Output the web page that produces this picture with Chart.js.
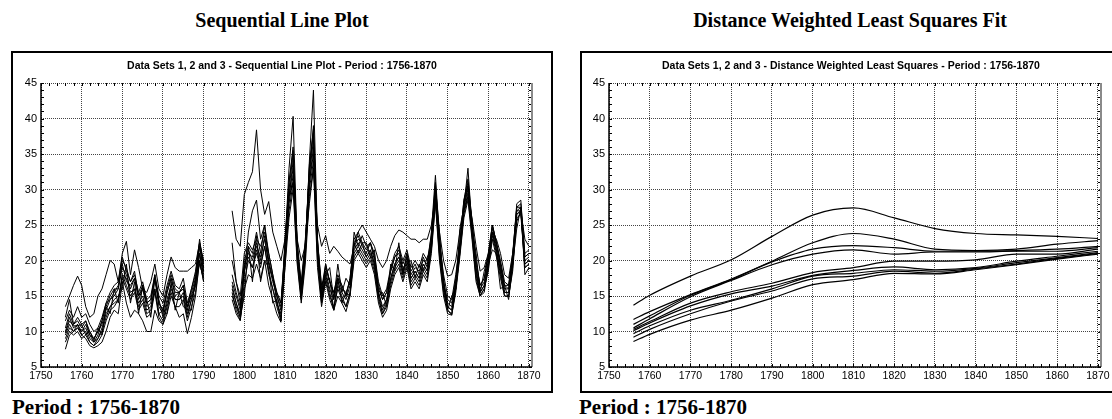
<!DOCTYPE html>
<html>
<head>
<meta charset="utf-8">
<script src="https://cdn.jsdelivr.net/npm/chart.js@4.4.1/dist/chart.umd.min.js"></script>
<style>
html, body { margin: 0; padding: 0; background: #fff; }
body { position: relative; width: 1112px; height: 419px; overflow: hidden; }
.head { position: absolute; top: 9px; line-height: 24px; text-align: center;
        font: bold 20px "Liberation Serif", "Times New Roman", serif; color: #000; }
.box { position: absolute; top: 51px; width: 538px; height: 338px; border: 2px solid #000; }
.box canvas { position: absolute; left: 0; top: 0; }
.sub { position: absolute; top: 6px; left: 0; width: 100%; line-height: 12px; text-align: center;
       font: bold 10.5px "Liberation Sans", Arial, sans-serif; color: #000; }
.foot { position: absolute; top: 395px; line-height: 24px;
        font: bold 21px "Liberation Serif", "Times New Roman", serif; color: #000; }
</style>
</head>
<body>

<div class="head" style="left:11px; width:542px;">Sequential Line Plot</div>
<div class="head" style="left:580px; width:540px;">Distance Weighted Least Squares Fit</div>

<div class="box" style="left:11px;">
    <canvas id="seqChart" width="538" height="338"></canvas>
    <div class="sub">Data Sets 1, 2 and 3 - Sequential Line Plot - Period : 1756-1870</div>
</div>
<div class="box" style="left:580px;">
    <canvas id="fitChart" width="538" height="338"></canvas>
    <div class="sub">Data Sets 1, 2 and 3 - Distance Weighted Least Squares - Period : 1756-1870</div>
</div>

<div class="foot" style="left:12px;">Period : 1756-1870</div>
<div class="foot" style="left:579px;">Period : 1756-1870</div>

<script>
const N = null;

// years 1756..1870, no observations 1791-1796
const YEARS = [];
for (let y = 1756; y <= 1870; y++) YEARS.push(y);

const X_TICKS = [1750, 1760, 1770, 1780, 1790, 1800, 1810, 1820, 1830, 1840, 1850, 1860, 1870];
const Y_TICKS = [5, 10, 15, 20, 25, 30, 35, 40, 45];

// sequential series, one value per year (rows: 1756-59, 1760s, 1770s, ... 1860s, 1870)
const s1 = [
    13.5, 15, 16.5, 17.8,
    16.5, 13.5, 12, 12.5, 15, 16, 18, 20, 19.5, 17,
    21, 22.7, 18, 21.5, 19, 16, 15.5, 17, 19.5, 16,
    15, 18, 20.5, 19, 18.5, 18.5, 18.5, 19, 19.5, 22.5,
    20, N, N, N, N, N, N, 27, 23, 22,
    29.3, 31, 32.5, 38.4, 30, 26.5, 28.3, 24, 22, 20,
    23, 29, 31, 23, 20, 22, 28, 33, 25, 22,
    23.5, 21, 22, 21.3, 20.5, 20, 19.5, 22, 24, 25,
    24, 23, 22, 20, 19, 20, 22, 23.5, 24.3, 24,
    23.5, 23, 23, 22.5, 23, 23, 25, 29, 24, 20,
    17.8, 18, 20, 24, 27, 29, 26, 22, 18.5, 19,
    21, 24, 23, 21, 18, 17.5, 21, 25.5, 27, 23,
    22
];
const s2 = [
    10.5, 12.5, 11, 12,
    11, 11.5, 10, 9, 10, 11.5, 13.5, 15, 16, 16,
    20, 19, 17, 18.5, 15, 16.5, 14, 14.5, 18, 14,
    13, 16, 18, 16, 15.5, 16.5, 13.5, 16, 18, 23,
    19, N, N, N, N, N, N, 16, 14, 12.5,
    20, 22, 21, 24, 21, 25, 20, 17.5, 15, 13,
    22, 33, 40.3, 22, 15, 21, 34, 44, 23, 15,
    19.5, 17, 15.5, 18, 16.5, 15, 17.5, 23, 24, 22.5,
    21.5, 22.5, 20, 16, 14.5, 15.5, 18.5, 20.5, 21.5, 19.5,
    21, 18.5, 19.5, 18, 20.5, 19, 24, 32, 23, 17.5,
    13, 15, 16, 24.5, 27.5, 33, 24.5, 21, 15.5, 18.5,
    20.5, 25, 22.5, 19, 16.5, 16, 20.5, 28, 28.5, 20.5,
    21
];
const s3 = [
    9.5, 11, 10, 10.5,
    10, 10.5, 9, 8.5, 9, 10.5, 12.5, 13.5, 14.5, 15,
    16, 19.5, 14, 17, 12.5, 16.5, 14.5, 12, 17.5, 14.5,
    12, 14.5, 16.5, 14.5, 14.5, 15.5, 12.5, 14.5, 16.5, 21,
    18, N, N, N, N, N, N, 22.5, 17, 14,
    18, 24, 27, 28.5, 23, 25, 21, 18, 14, 12,
    23, 31, 36, 21, 15.5, 22, 33, 38, 21, 14.5,
    18.5, 16, 14.5, 17, 15.5, 14.5, 16.5, 21.5, 22.5, 21.5,
    20.5, 21.5, 19.5, 15.5, 13.5, 14.5, 17.5, 19.5, 20.5, 18.5,
    20.5, 17.5, 18.5, 17.5, 19.5, 18.5, 22.5, 30, 21.5, 16.5,
    13.5, 13, 16.5, 21.5, 27.5, 30.5, 24.5, 18.5, 15.5, 16.5,
    19.5, 24, 21.5, 18.5, 15.5, 15.5, 19.5, 27, 27.5, 19.5,
    20
];
const s4 = [
    11.5, 13, 12, 13.5,
    12, 12.5, 11, 10, 10.5, 12, 14, 15.5, 16.5, 17,
    20.5, 18.5, 17, 18, 15.5, 17, 14.5, 15, 18, 15,
    14, 16.5, 18.5, 16.5, 16, 17.5, 14, 16, 18.5, 22.5,
    19.5, N, N, N, N, N, N, 20, 17, 15,
    21, 22.5, 21.5, 23, 22, 24, 21, 18, 15.5, 14,
    21, 29, 34, 21.5, 17, 23, 31, 36, 22.5, 16.5,
    18, 19, 14.5, 19.5, 15.5, 17.5, 16.5, 24, 22, 23.5,
    22, 22.5, 21, 17, 15, 16, 19, 21, 22, 20,
    21.5, 19, 20, 19, 21, 20, 23.5, 31, 22.5, 18,
    15, 14.5, 18, 22.5, 28.5, 31.5, 25.5, 20, 16.5, 17.5,
    21, 25, 22.5, 20, 17, 16.5, 21, 27.5, 28, 21,
    21.5
];
const s5 = [
    9.8, 11.5, 10.8, 10.8,
    11, 9.5, 10, 8.7, 10.5, 9.5, 13.5, 12.5, 16, 14,
    18, 17.5, 15.5, 16, 14, 15, 13, 13.5, 16, 12.5,
    11.5, 14, 16, 14.5, 14.5, 15, 12, 14.5, 16.5, 21,
    17.5, N, N, N, N, N, N, 15.5, 13, 11.6,
    17, 20, 19, 21, 19, 22, 18, 16, 13.5, 11.5,
    21, 28, 32, 21, 14.7, 21, 31, 35, 21, 14.2,
    18, 15.5, 13, 16.5, 15, 13.5, 15.5, 21, 22, 21,
    20, 21, 19, 15, 12.5, 14, 17, 19, 20, 18,
    20, 17, 18, 17, 19, 18, 22, 29, 21, 16,
    13, 12.3, 16, 21, 27, 29.5, 24, 18, 15.1, 16,
    19, 23.5, 21, 18, 15, 14.9, 19, 26.5, 27, 19,
    19.5
];
const s6 = [
    12, 14.5, 11, 11.5,
    10.5, 11.5, 9.5, 8.5, 9.5, 11.5, 14, 14.5, 15.5, 16.5,
    19.5, 17, 16.5, 17.5, 14.5, 16, 13.5, 14, 17.5, 13.5,
    12.5, 15.5, 17.5, 15, 15.5, 16.5, 13, 15.5, 17.5, 22,
    18.5, N, N, N, N, N, N, 18, 15.5, 13.5,
    19.5, 21, 20.5, 22.5, 20, 23.5, 19.5, 17, 15, 13.5,
    20, 30, 35, 22, 16, 22.5, 32, 39, 22, 15.5,
    19, 17, 15, 17.5, 16, 15.5, 17, 22, 23, 22.5,
    22.5, 20.5, 21.5, 15, 15.5, 13.5, 19.5, 18.5, 22.5, 18,
    21, 18, 19, 18.5, 20, 19.5, 23, 30.5, 22, 17,
    14, 13.5, 17, 22, 28, 31, 25, 19, 16, 17,
    20, 24.5, 22, 19.5, 16, 16, 20, 27, 27, 20,
    20.5
];
const s7 = [
    9, 10.5, 10, 11,
    9.5, 10, 8.5, 8, 9, 10, 12, 13.5, 14, 14.5,
    18, 16.5, 15, 16, 13.5, 14.5, 12.5, 13, 16, 12.5,
    13, 12.5, 17, 13, 15.5, 13.5, 13, 13, 17.5, 19.5,
    17.5, N, N, N, N, N, N, 15, 13.5, 12,
    18.5, 20.5, 19, 21.5, 19.5, 22, 18.5, 16, 14, 12.5,
    19, 29, 33, 21, 15, 21.5, 32, 37, 21, 15,
    17, 17.5, 13, 17.5, 14, 15.5, 15, 22.5, 21, 22.5,
    20.5, 21.5, 19.5, 15.5, 13, 14.5, 17.5, 19.5, 20.5, 18.5,
    20.5, 17.5, 18.5, 17.5, 19.5, 18.5, 22.5, 29.5, 21.5, 16.5,
    13.5, 13, 16.5, 21.5, 27.5, 30, 24.5, 18.5, 15.5, 16.5,
    19.5, 24, 21.5, 18.5, 15.5, 15.5, 19.5, 26.5, 27, 19.5,
    20
];
const s8 = [
    10, 12, 10.5, 11,
    10, 11, 9.5, 9, 10, 11, 13, 14.5, 15, 16,
    19, 18, 16, 17.5, 15, 16, 14, 14.5, 17.5, 14,
    13, 15.5, 17.5, 15.5, 15.5, 16, 13.5, 15, 17, 22,
    18.5, N, N, N, N, N, N, 17, 15, 13,
    19, 21.5, 20, 22, 20.5, 23, 19.5, 17.5, 15.5, 14,
    22, 31, 35.5, 23, 16.5, 22, 33.5, 38.5, 23, 16,
    19.5, 17, 15.5, 17.5, 16.5, 15, 17.5, 22.5, 23.5, 22,
    21, 22.5, 20.5, 16.5, 14.5, 15.5, 18.5, 20.5, 21, 19,
    19.5, 20, 17.5, 19.5, 18.5, 20.5, 21.5, 30.5, 24, 16.5,
    14.5, 14, 17.5, 22.5, 28.5, 30.5, 25.5, 19.5, 16.5, 17.5,
    20.5, 25, 22.5, 19.5, 16.5, 16.5, 20.5, 27.5, 27.5, 20.5,
    21
];
const s9 = [
    8.5, 10, 9.5, 10,
    9, 9.5, 8.5, 8, 8.5, 9.5, 11.5, 13, 13.5, 14.5,
    17.5, 16, 14.5, 15.5, 13, 14, 12, 12.5, 15.5, 12,
    11, 13.5, 15.5, 13.5, 13.5, 14.5, 11.5, 13.5, 15.5, 20,
    17, N, N, N, N, N, N, 16.5, 14, 12,
    15, 22, 17, 23.5, 17, 20, 19, 14, 14.5, 11.5,
    20, 27, 31, 20, 14.5, 20.5, 30, 34, 20, 14,
    17.5, 15, 13.5, 16, 14.5, 13.5, 15.5, 20.5, 21.5, 20.5,
    19.5, 20.5, 18.5, 14.5, 12.5, 13.5, 16.5, 18.5, 19.5, 17.5,
    19.5, 16.5, 17.5, 16.5, 18.5, 17.5, 21.5, 28.5, 20.5, 15.5,
    13, 12.5, 16, 21, 26.5, 29, 23.5, 17.5, 15, 16,
    18.5, 23, 20.5, 17.5, 15, 15, 18.5, 26, 26.5, 19,
    19.5
];
const s10 = [
    7.5, 9.5, 10, 10.5,
    9.5, 9, 8, 7.7, 8, 8.5, 10, 12, 13, 12.5,
    17, 14, 12, 13, 12.5, 11.5, 10, 10, 13, 11.5,
    11, 12.5, 15, 13.5, 12, 12.5, 9.7, 12, 15, 20,
    17, N, N, N, N, N, N, 14.5, 12.5, 11.5,
    16, 18, 17.5, 19.5, 17.5, 20, 16.5, 14.5, 12.5, 11.3,
    19, 26, 30, 19.5, 14, 19.5, 29, 33, 19, 13.5,
    17, 14.5, 13, 15, 14, 12.8, 15, 20, 21, 20,
    19, 20, 18, 14, 12, 13, 16, 18, 19, 17,
    19, 16, 17, 16, 18, 17, 21, 28, 20, 15,
    12.5, 12.3, 15.5, 20.5, 26, 28.5, 23, 17, 15, 15.5,
    19.5, 21.5, 21, 16, 16.5, 14.5, 19.5, 24.5, 27.5, 18,
    19
];
const SEQ_SERIES = [s1, s2, s3, s4, s5, s6, s7, s8, s9, s10];

// distance weighted least squares curves, read at these years
const FIT_YEARS = [1756, 1760, 1770, 1780, 1790, 1800, 1810, 1820, 1830, 1840, 1850, 1860, 1870];
const f1 = [13.7, 15.1, 17.8, 20.1, 23.4, 26.4, 27.4, 26.0, 24.5, 23.8, 23.6, 23.4, 23.1];
const f2 = [11.7, 12.8, 15.2, 17.4, 19.9, 22.5, 23.8, 23.0, 21.6, 21.4, 21.6, 22.3, 22.8];
const f3 = [11.0, 12.2, 15.1, 17.3, 19.8, 21.6, 22.1, 21.8, 21.3, 21.3, 21.4, 21.6, 22.0];
const f4 = [10.5, 11.8, 14.9, 17.2, 19.4, 20.9, 21.5, 20.9, 21.2, 21.2, 21.3, 21.3, 21.8];
const f5 = [10.3, 11.4, 14.0, 15.6, 16.8, 18.3, 19.0, 19.9, 19.9, 20.1, 20.9, 20.9, 21.6];
const f6 = [10.1, 11.2, 13.6, 15.3, 16.4, 17.9, 18.6, 19.1, 18.7, 19.0, 19.9, 20.6, 21.3];
const f7 = [9.7, 10.8, 13.0, 14.4, 16.0, 17.8, 18.2, 18.7, 18.5, 18.9, 19.7, 20.4, 21.1];
const f8 = [9.2, 10.3, 12.5, 14.3, 15.7, 17.4, 17.8, 18.5, 18.2, 18.8, 19.5, 20.3, 21.0];
const f9 = [8.6, 9.6, 11.6, 13.0, 14.7, 16.6, 17.3, 18.2, 18.1, 18.7, 19.4, 20.2, 20.9];
const FIT_SERIES = [f1, f2, f3, f4, f5, f6, f7, f8, f9];

const X_MIN = 1750, X_MAX = 1870.75;
const Y_MIN = 5, Y_MAX = 45;

// plot frame: black left/bottom axis, grey right edge, small inward ticks
const framePlugin = {
    id: 'frame',
    afterDraw(chart) {
        const ctx = chart.ctx;
        const a = chart.chartArea;
        const x = chart.scales.x, y = chart.scales.y;
        ctx.save();
        ctx.strokeStyle = '#000';
        ctx.lineWidth = 1;
        ctx.beginPath();
        for (let v = X_MIN; v <= 1870; v += 2) {
            const px = Math.round(x.getPixelForValue(v)) + 0.5;
            ctx.moveTo(px, a.bottom); ctx.lineTo(px, a.bottom - 3);
            ctx.moveTo(px, a.top); ctx.lineTo(px, a.top + 3);
        }
        for (let v = Y_MIN; v <= Y_MAX; v += 1) {
            const py = Math.round(y.getPixelForValue(v)) + 0.5;
            ctx.moveTo(a.left, py); ctx.lineTo(a.left + 3, py);
            ctx.moveTo(a.right, py); ctx.lineTo(a.right - 3, py);
        }
        ctx.stroke();
        ctx.strokeStyle = '#8a8a8a';
        ctx.lineWidth = 2;
        ctx.beginPath();
        ctx.moveTo(a.right, a.top); ctx.lineTo(a.right, a.bottom);
        ctx.stroke();
        ctx.strokeStyle = '#000';
        ctx.lineWidth = 1.5;
        ctx.beginPath();
        ctx.moveTo(a.left, a.top); ctx.lineTo(a.left, a.bottom); ctx.lineTo(a.right, a.bottom);
        ctx.stroke();
        ctx.restore();
    }
};

function scaleOptions(yWidth) {
    const tickFont = { family: "'Liberation Sans', Arial, sans-serif", size: 10.5 };
    return {
        x: {
            type: 'linear',
            min: X_MIN,
            max: X_MAX,
            afterBuildTicks: s => { s.ticks = X_TICKS.map(v => ({ value: v })); },
            afterFit: s => { s.height = 24; },
            ticks: { color: '#000', font: tickFont, padding: 3, autoSkip: false, maxRotation: 0,
                     callback: v => String(v) },
            grid: { color: '#444', lineWidth: 1, drawTicks: false },
            border: { display: false, dash: [1, 1] }
        },
        y: {
            min: Y_MIN,
            max: Y_MAX,
            afterBuildTicks: s => { s.ticks = Y_TICKS.map(v => ({ value: v })); },
            afterFit: s => { s.width = yWidth; },
            ticks: { color: '#000', font: { family: "'Liberation Sans', Arial, sans-serif", size: 11 },
                     padding: 4 },
            grid: { color: '#444', lineWidth: 1, drawTicks: false },
            border: { display: false, dash: [1, 1] }
        }
    };
}

function baseOptions(yWidth, rightPad) {
    return {
        responsive: false,
        animation: false,
        events: [],
        layout: { padding: { top: 30, right: rightPad, bottom: 0, left: 0 } },
        plugins: { legend: { display: false }, title: { display: false }, tooltip: { enabled: false } },
        scales: scaleOptions(yWidth)
    };
}

new Chart(document.getElementById('seqChart'), {
    type: 'line',
    data: {
        labels: YEARS,
        datasets: SEQ_SERIES.map(s => ({
            data: s,
            borderColor: '#000',
            borderWidth: 1,
            pointRadius: 0,
            tension: 0,
            spanGaps: false
        }))
    },
    options: baseOptions(28, 19),
    plugins: [framePlugin]
});

new Chart(document.getElementById('fitChart'), {
    type: 'line',
    data: {
        labels: FIT_YEARS,
        datasets: FIT_SERIES.map(s => ({
            data: s,
            borderColor: '#000',
            borderWidth: 1.2,
            pointRadius: 0,
            cubicInterpolationMode: 'monotone'
        }))
    },
    options: baseOptions(27, 19),
    plugins: [framePlugin]
});
</script>
</body>
</html>
